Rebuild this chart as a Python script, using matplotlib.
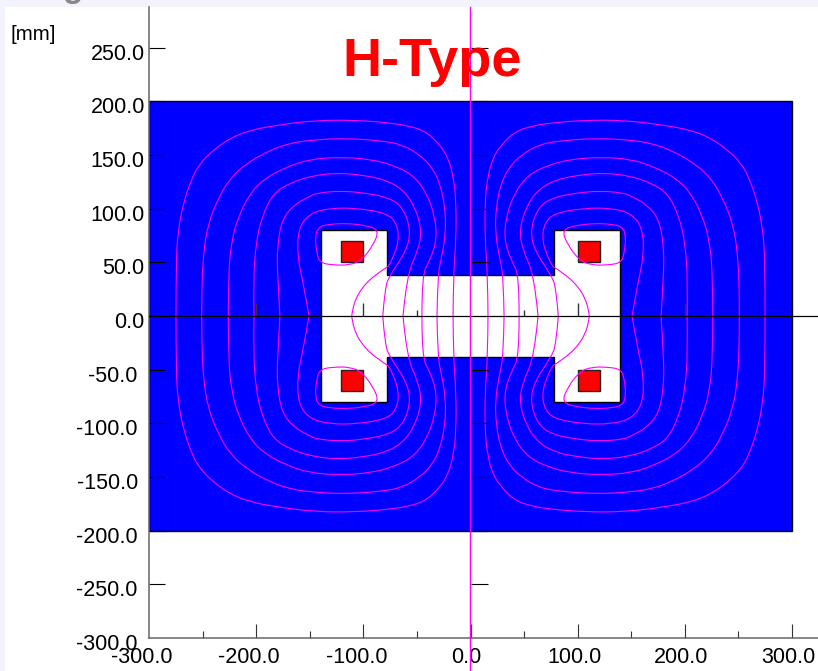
import numpy as np
import matplotlib
matplotlib.use("Agg")
import matplotlib.pyplot as plt
from matplotlib.patches import Rectangle, Polygon, PathPatch
from matplotlib.path import Path
from matplotlib.transforms import ScaledTranslation

plt.rcParams['font.family'] = ['Liberation Sans', 'DejaVu Sans']

# axis ticks
x_major = [-300, -200, -100, 0, 100, 200, 300]
x_minor = [-250, -150, -50, 50, 150, 250]
x_labels = ['-300.0', '-200.0', '-100.0', '0.0', '100.0', '200.0', '300.0']
y_major = [-300, -250, -200, -150, -100, -50, 0, 50, 100, 150, 200, 250]
y_labels = ['-300.0', '-250.0', '-200.0', '-150.0', '-100.0', '-50.0', '0.0',
            '50.0', '100.0', '150.0', '200.0', '250.0']
center_x_major = [-200, -100, 100, 200]
center_x_minor = [-50, 50]
center_y_major = [-250, -200, -150, -100, -50, 50, 100, 150, 200, 250]

# model geometry, one quadrant where it is symmetric [mm]
region_x = [-300, 300]
region_y = [-200, 200]
yoke_half_w = 139.5
yoke_half_h = 80
gap_half_w = 77.5
gap_half_h = 38
coil_x = [100, 120.5]
coil_y = [50, 70]

# flux lines
line_1 = [(-274.8, 0), (-274.8, 52.2), (-272.7, 80.1), (-268, 105.2), (-260.1, 128.5),
          (-252.4, 142.5), (-240, 154.6), (-224.4, 165.8), (-205.7, 173.2), (-180.8, 177.9),
          (-143.5, 182.5), (-106.2, 182.5), (-75.1, 180), (-56.5, 177), (-40.9, 171.6),
          (-28.5, 159.3), (-20.7, 147.2), (-16, 129.7), (-13.5, 108), (-13.5, 70.8),
          (-16, 38.2), (-16.3, 0)]
line_2 = [(-250.8, 0), (-250.8, 24.2), (-249.3, 58.7), (-244.7, 86.6), (-235.3, 109.9),
          (-224.4, 128.5), (-208.8, 142.5), (-187.1, 154.6), (-168.4, 161.1), (-149.8, 163.9),
          (-118.7, 165.8), (-81.4, 163.3), (-62.7, 159.3), (-47.1, 149.9), (-36.2, 139),
          (-28.5, 123.9), (-23.8, 101.8), (-23.1, 77.3), (-26.9, 55.2), (-30.6, 38.2),
          (-31.3, 0)]
line_3 = [(-226, 0), (-226, 40), (-222.8, 70.8), (-216.7, 92.5), (-205.7, 114.6),
          (-191.8, 128.5), (-171.5, 139), (-149.8, 146.2), (-121.8, 148.1), (-93.8, 146.2),
          (-72, 140.6), (-53.4, 131.3), (-40.9, 114.6), (-33.1, 92.5), (-31.5, 70.8),
          (-37.8, 52.2), (-45.5, 38.2), (-45.3, 0)]
line_4 = [(-202, 0), (-202.7, 33.5), (-200.2, 68), (-194.8, 92.5), (-184, 114.6),
          (-168.4, 123.9), (-149.8, 130.4), (-124.9, 133.5), (-100, 131.3), (-78.2, 126.7),
          (-62.7, 117.4), (-51.8, 101.8), (-45.5, 80.1), (-48.7, 61.5), (-59.5, 38.2), (-63, 0)]
line_5 = [(-177.8, 0), (-180.3, 40), (-180.3, 64.5), (-176.2, 89.4), (-165.3, 103.4),
          (-149.8, 111.8), (-143.5, 114.6), (-121.8, 116.7), (-96.9, 114.6), (-75.1, 109.9),
          (-62.7, 100.6), (-55.8, 80.1), (-59.5, 61.5), (-75.1, 38.2), (-79.8, 27), (-81.9, 0)]
line_6 = [(-150.7, 0), (-156, 30.7), (-161.6, 55.2), (-160.7, 82), (-149.8, 95.9),
          (-131.1, 100.6), (-106.2, 100.6), (-78.2, 95.9), (-68.9, 86.6), (-66.7, 70.8),
          (-72, 55.2), (-76.7, 45.9), (-79.8, 44.7), (-98.4, 30.7), (-109.6, 12.1), (-110.8, 0)]
# small closed loop round the coil
coil_loop = [(-85.1, 80.7), (-90.7, 66.1), (-101.5, 52.2), (-112.4, 47.5), (-128, 47.5),
             (-140.4, 49.6), (-143.5, 58.4), (-145.1, 73.9), (-142, 83.2), (-131.1, 85.7),
             (-115.5, 86.3), (-100, 84.8)]

BLUE = '#0000FF'
RED = '#FF0000'
MAGENTA = '#FF00FF'
TICK = '#333333'
W, H = 818, 671


def smooth_path(points, closed=False):
    # quadratic curve with the read points as control points
    pts = np.array(points, dtype=float)
    mids = (pts[:-1] + pts[1:]) / 2
    if closed:
        start = (pts[-1] + pts[0]) / 2
        verts = [start]
        for p, m in zip(pts, list(mids) + [start]):
            verts += [p, m]
    else:
        verts = [pts[0]]
        for p, m in zip(pts[1:-1], list(mids[1:-1]) + [pts[-1]]):
            verts += [p, m]
    codes = [Path.MOVETO] + [Path.CURVE3] * (len(verts) - 1)
    return Path(verts, codes)


def shift(label, dx, dy):
    # dx, dy in pixels at 100 dpi
    label.set_transform(label.get_transform() + ScaledTranslation(dx / 100, dy / 100, fig.dpi_scale_trans))


fig = plt.figure(figsize=(W / 100, H / 100), dpi=100, facecolor='#F3F3FE')
fig.patches.append(Rectangle((5 / W, 0), 1 - 5 / W, 1 - 7 / H, transform=fig.transFigure,
                             facecolor='white', edgecolor='none', figure=fig, zorder=-5))
fig.text(73 / W, 1 + 2.5 / H, 'g', fontsize=24, fontweight='bold', color='#888888',
         ha='center', va='baseline')

rect = [149 / W, 33 / H, (W - 149) / W, (638 - 7) / H]
ax = fig.add_axes(rect, facecolor='white')
ax.set_xlim(-300, 324.2)
ax.set_ylim(-300, 288)

# model
ax.add_patch(Rectangle((region_x[0], region_y[0]), region_x[1] - region_x[0], region_y[1] - region_y[0],
                       facecolor=BLUE, edgecolor='black', lw=1, zorder=1))
yoke = [(-yoke_half_w, -yoke_half_h), (-gap_half_w, -yoke_half_h), (-gap_half_w, -gap_half_h),
        (gap_half_w, -gap_half_h), (gap_half_w, -yoke_half_h), (yoke_half_w, -yoke_half_h),
        (yoke_half_w, yoke_half_h), (gap_half_w, yoke_half_h), (gap_half_w, gap_half_h),
        (-gap_half_w, gap_half_h), (-gap_half_w, yoke_half_h), (-yoke_half_w, yoke_half_h)]
ax.add_patch(Polygon(yoke, closed=True, facecolor='white', edgecolor='black', lw=1, zorder=2))
for sx in (-1, 1):
    for sy in (-1, 1):
        x0 = min(sx * coil_x[0], sx * coil_x[1])
        y0 = min(sy * coil_y[0], sy * coil_y[1])
        ax.add_patch(Rectangle((x0, y0), coil_x[1] - coil_x[0], coil_y[1] - coil_y[0],
                               facecolor=RED, edgecolor='#222222', lw=1, zorder=3))

# flux lines, mirrored into all quadrants
for line in [line_1, line_2, line_3, line_4, line_5, line_6]:
    for sx in (-1, 1):
        for sy in (-1, 1):
            ax.add_patch(PathPatch(smooth_path([(-sx * x, sy * y) for x, y in line]), fill=False,
                                   edgecolor=MAGENTA, lw=0.8, zorder=4))
for sx in (-1, 1):
    for sy in (-1, 1):
        ax.add_patch(PathPatch(smooth_path([(-sx * x, sy * y) for x, y in coil_loop], closed=True),
                               fill=False, edgecolor=MAGENTA, lw=0.8, zorder=4))

# axes look
for side in ['top', 'right']:
    ax.spines[side].set_visible(False)
for side in ['left', 'bottom']:
    ax.spines[side].set_color('#666666')
    ax.spines[side].set_linewidth(1.1)
    ax.spines[side].set_zorder(6)
ax.set_xticks(x_major)
ax.set_xticks(x_minor, minor=True)
ax.set_yticks(y_major)
ax.set_xticklabels(x_labels)
ax.set_yticklabels(y_labels)
ax.tick_params(axis='x', which='major', direction='in', length=10, width=0.8, color=TICK,
               labelsize=15.5, pad=6.6, zorder=5)
ax.tick_params(axis='x', which='minor', direction='in', length=5, width=0.8, color=TICK, zorder=5)
ax.tick_params(axis='y', which='major', direction='in', length=11.5, width=0.8, color='black',
               labelsize=15.5, pad=4.5, zorder=5)
ax.xaxis.get_major_ticks()[0].tick1line.set_visible(False)
ax.yaxis.get_major_ticks()[0].tick1line.set_visible(False)
for tick in ax.get_xticklabels():
    txt = tick.get_text()
    shift(tick, -7 if txt.startswith('-') else (-4.5 if txt == '0.0' else -3.5), 0)
for tick in ax.get_yticklabels():
    shift(tick, -5 if tick.get_text().startswith('-') else 2, -4)

# overlay for the ticks on the centre cross
ax2 = fig.add_axes(rect, facecolor='none')
ax2.set_xlim(ax.get_xlim())
ax2.set_ylim(ax.get_ylim())
for side in ['top', 'right', 'left', 'bottom']:
    ax2.spines[side].set_visible(False)
ax2.spines['left'].set_position(('data', 0))
ax2.spines['bottom'].set_position(('data', 0))
ax2.set_xticks(center_x_major)
ax2.set_xticks(center_x_minor, minor=True)
ax2.set_yticks(center_y_major)
ax2.tick_params(axis='x', which='major', direction='in', length=9.5, width=1, color=TICK, labelbottom=False)
ax2.tick_params(axis='x', which='minor', direction='in', length=4.5, width=1, color=TICK)
ax2.tick_params(axis='y', which='major', direction='in', length=12, width=0.8, color='black', labelleft=False)
ax2.axhline(0, color='black', lw=0.9, zorder=5)
ax2.axvline(-0.6, ymin=-33 / 631, ymax=1, color=MAGENTA, lw=1, zorder=7, clip_on=False)

# texts
fig.text(11 / W, 1 - 34 / H, '[mm]', fontsize=14.8, color='black', ha='left', va='center')
fig.text(432 / W, 1 - 62 / H, 'H-Type', fontsize=39, fontweight='bold', color=RED,
         ha='center', va='center', zorder=10)

fig.savefig('out.png', dpi=100, facecolor=fig.get_facecolor())
